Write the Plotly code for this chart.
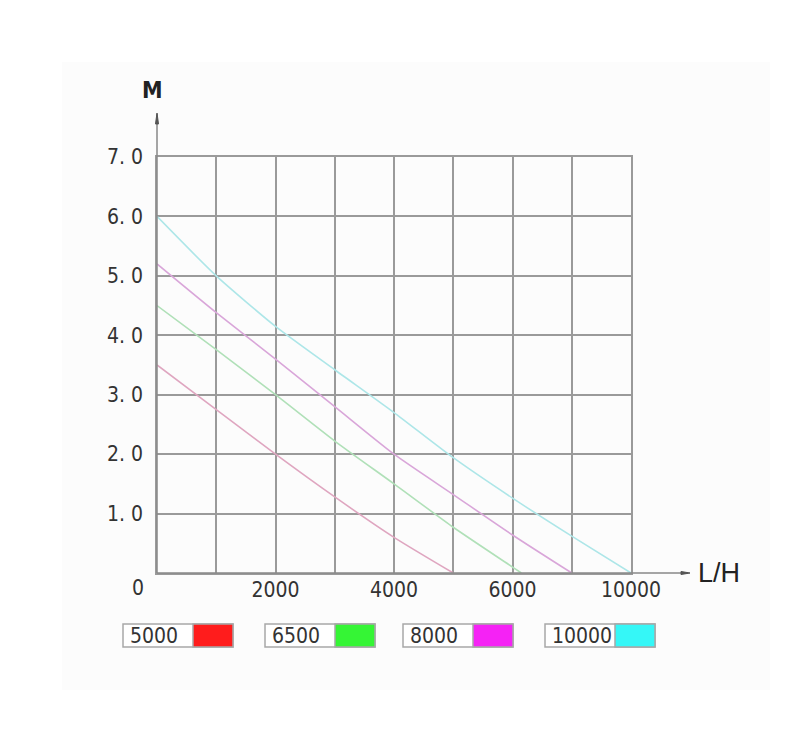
import plotly.graph_objects as go

# pump curves: x in grid columns (axis labelled 2000/4000/6000/10000), y = head in metres
series_names = ['5000', '6500', '8000', '10000']
flow_5000 = [0, 1, 2, 3, 4, 5]
head_5000 = [3.5, 2.75, 2.0, 1.28, 0.6, 0]
flow_6500 = [0, 1, 2, 3, 4, 5, 6, 6.15]
head_6500 = [4.5, 3.76, 3.0, 2.22, 1.5, 0.77, 0.1, 0]
flow_8000 = [0, 1, 2, 3, 4, 5, 6, 7]
head_8000 = [5.2, 4.38, 3.6, 2.8, 2.0, 1.32, 0.64, 0]
flow_10000 = [0, 1, 2, 3, 4, 5, 6, 7, 8]
head_10000 = [6.0, 5.0, 4.15, 3.42, 2.7, 1.94, 1.26, 0.62, 0]

x_tickvals = [2, 4, 6, 8]
x_ticktext = ['2000', '4000', '6000', '10000']
y_tickvals = [1, 2, 3, 4, 5, 6, 7]
y_ticktext = ['1. 0', '2. 0', '3. 0', '4. 0', '5. 0', '6. 0', '7. 0']

line_colors = ['#dfa6c0', '#b0e0b8', '#d9a6d9', '#ade6e8']
legend_colors = ['#ff1c1c', '#35f535', '#f522f5', '#35f7f7']

FONT = 'DejaVu Sans Condensed, Liberation Sans Narrow, Liberation Sans, sans-serif'

# plot area in pixels (page has an 8px body margin)
L, R, T, B = 157, 631, 157, 573
OFF = 8


def px(x):
    return (x - L) / (R - L)


def py(y):
    return (B - y) / (B - T)


fig = go.Figure()

curves = [(flow_5000, head_5000), (flow_6500, head_6500),
          (flow_8000, head_8000), (flow_10000, head_10000)]
for i, (xs, ys) in enumerate(curves):
    fig.add_trace(
        go.Scatter(
            x=xs, y=ys,
            mode='lines',
            name=series_names[i],
            line=dict(color=line_colors[i], width=1.6, shape='spline', smoothing=0.6),
            showlegend=False,
        )
    )

grid = '#9a9a9a'
shapes = []
# light backdrop
shapes.append(dict(type='rect', xref='paper', yref='paper', layer='below',
                   x0=px(62), x1=px(770), y0=py(690), y1=py(62),
                   fillcolor='#fcfcfc', line=dict(width=0)))
# axis lines with arrows
shapes.append(dict(type='line', xref='paper', yref='paper',
                   x0=0, x1=0, y0=0, y1=py(114), line=dict(color='#888', width=1.5)))
shapes.append(dict(type='path', xref='paper', yref='paper',
                   path='M %f %f L %f %f L %f %f Z' % (px(155.5), py(124), px(157), py(113), px(158.5), py(124)),
                   fillcolor='#555', line=dict(color='#555', width=1)))
shapes.append(dict(type='line', xref='paper', yref='paper',
                   x0=0, x1=px(688), y0=0, y1=0, line=dict(color='#888', width=1.5)))
shapes.append(dict(type='path', xref='paper', yref='paper',
                   path='M %f %f L %f %f L %f %f Z' % (px(681), py(571.5), px(690), py(573), px(681), py(574.5)),
                   fillcolor='#555', line=dict(color='#555', width=1)))

annotations = [
    dict(text='<b>M</b>', x=px(152), y=py(90), xref='paper', yref='paper', showarrow=False,
         xanchor='center', yanchor='middle', font=dict(family=FONT, size=23, color='#222')),
    dict(text='L/H', x=px(719), y=py(573), xref='paper', yref='paper', showarrow=False,
         xanchor='center', yanchor='middle',
         font=dict(family='Liberation Sans, sans-serif', size=27, color='#222')),
    dict(text='0', x=px(138), y=py(588), xref='paper', yref='paper', showarrow=False,
         xanchor='center', yanchor='middle', font=dict(family=FONT, size=21, color='#333')),
]

# legend boxes
box_lefts = [123, 265, 403, 545]
for i, name in enumerate(series_names):
    x0 = box_lefts[i]
    shapes.append(dict(type='rect', xref='paper', yref='paper',
                       x0=px(x0), x1=px(x0 + 110), y0=py(647), y1=py(624),
                       fillcolor='white', line=dict(color='#a8a8a8', width=1.5)))
    shapes.append(dict(type='rect', xref='paper', yref='paper',
                       x0=px(x0 + 70), x1=px(x0 + 110), y0=py(647), y1=py(624),
                       fillcolor=legend_colors[i], line=dict(color='#a8a8a8', width=1.5)))
    annotations.append(dict(text=name, x=px(x0 + 5), y=py(635.5), xref='paper', yref='paper',
                            xanchor='left', yanchor='middle', showarrow=False,
                            font=dict(family=FONT, size=21, color='#333')))

fig.update_layout(
    width=800,
    height=736,
    margin=dict(l=L - OFF, r=800 - R + OFF, t=T - OFF, b=736 - B + OFF),
    plot_bgcolor='white',
    paper_bgcolor='white',
    shapes=shapes,
    annotations=annotations,
    xaxis=dict(
        range=[0, 8],
        tickvals=x_tickvals,
        ticktext=x_ticktext,
        showgrid=True, gridcolor=grid, gridwidth=1.5,
        minor=dict(dtick=1, tick0=0, showgrid=True, gridcolor=grid, gridwidth=1.5),
        showline=True, linecolor=grid, linewidth=1.5, mirror=True,
        zeroline=False, ticks='',
        ticklabelstandoff=-3,
        tickfont=dict(family=FONT, size=21, color='#333'),
    ),
    yaxis=dict(
        range=[0, 7],
        tickvals=y_tickvals,
        ticktext=y_ticktext,
        showgrid=True, gridcolor=grid, gridwidth=1.5,
        showline=True, linecolor=grid, linewidth=1.5, mirror=True,
        zeroline=False, ticks='',
        ticklabelstandoff=8,
        tickfont=dict(family=FONT, size=21, color='#333'),
    ),
)

fig.write_html("out.html")
